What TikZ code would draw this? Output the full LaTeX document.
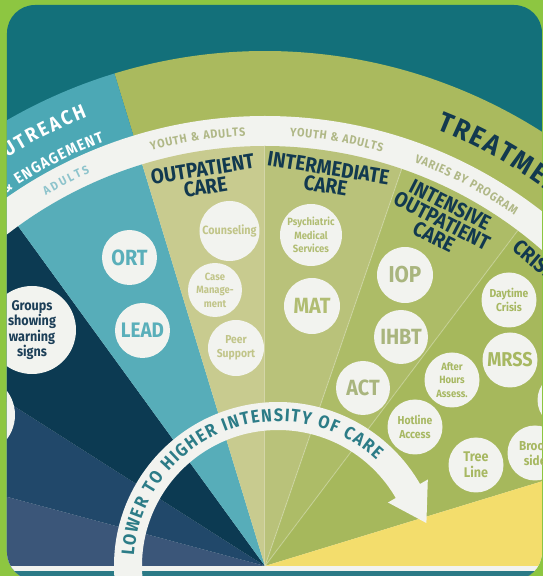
\documentclass[tikz,border=0pt]{standalone}
\usepackage{fontspec}
\setmainfont{Fira Sans}[FakeStretch=0.9]
\usetikzlibrary{calc,decorations.text}
\definecolor{framegreen}{HTML}{8DC641}
\definecolor{deepteal}{HTML}{13707A}
\definecolor{bandteal}{HTML}{4CA8B5}
\definecolor{bandolive}{HTML}{AABA5E}
\definecolor{ringwhite}{HTML}{F2F3EF}
\definecolor{navya}{HTML}{0C3A52}
\definecolor{navyb}{HTML}{21486A}
\definecolor{navyc}{HTML}{3B5679}
\definecolor{wedgeteal}{HTML}{57ADB9}
\definecolor{outpat}{HTML}{C8CB8F}
\definecolor{intermed}{HTML}{B9C27A}
\definecolor{intensive}{HTML}{ADBC67}
\definecolor{crisis}{HTML}{A6B85C}
\definecolor{sunyellow}{HTML}{F3DD6C}
\definecolor{stripteal}{HTML}{2B7A86}
\definecolor{titlenavy}{HTML}{12394F}
\definecolor{groupnavy}{HTML}{1D3F58}
\definecolor{ringolive}{HTML}{B0B887}
\definecolor{ringteal}{HTML}{8EC4CC}
\definecolor{arrowteal}{HTML}{2C7C87}
\definecolor{tealtext}{HTML}{5AAFBA}
\definecolor{paletext}{HTML}{C1C589}
\definecolor{midtext}{HTML}{B1BD73}
\definecolor{ioptext}{HTML}{A9B57E}
\definecolor{crisistext}{HTML}{A7B862}
\tikzset{
  bubble/.style={circle,fill=ringwhite,inner sep=0pt,align=center,
                 minimum size=55pt,font=\bfseries\fontsize{22}{22}\selectfont},
  smalltag/.style={font=\bfseries\fontsize{10.5}{13.5}\selectfont},
  title/.style={text=titlenavy,align=center,inner sep=0pt,
                font=\bfseries\fontsize{21}{18}\selectfont}
}
% one slice of the fan, from angle #1 to #2
\newcommand{\fanslice}[4]{\fill[#4] (0,0) -- (#1:#3) arc[start angle=#1,end angle=#2,radius=#3] -- cycle;}
% curved text, clockwise from #1 to #2
\newcommand{\arclabel}[6]{\path[decorate,decoration={text along path,text align={fit to path},
    text color=#5,text={|\bfseries\fontsize{#4}{#4}\selectfont|#6}}]
    (#1:#3) arc[start angle=#1,end angle=#2,radius=#3];}

\begin{document}
\begin{tikzpicture}[x=1pt,y=1pt]
  \useasboundingbox (-265,-10) rectangle (278,566);
  \fill[framegreen] (-265,-10) rectangle (278,566);
  \begin{scope}
    \clip[rounded corners=28pt] (-258,-14) rectangle (277,561);
    \fill[deepteal] (-265,-14) rectangle (278,566);

    % outer band and white ring
    \fanslice{0}{107}{515pt}{bandolive}
    \fanslice{107}{190}{515pt}{bandteal}
    \fanslice{0}{190}{450pt}{ringwhite}

    % inner slices
    \fanslice{165}{190}{420pt}{navyc}
    \fanslice{147.5}{165}{420pt}{navyb}
    \fanslice{126}{147.5}{420pt}{navya}
    \fanslice{107}{126}{420pt}{wedgeteal}
    \fanslice{90}{107}{420pt}{outpat}
    \fanslice{71}{90}{420pt}{intermed}
    \fanslice{53}{71}{420pt}{intensive}
    \fanslice{17}{53}{420pt}{crisis}
    \fanslice{-10}{17}{420pt}{sunyellow}
    \foreach \a in {90,71,53}
      \draw[white,opacity=0.25,line width=1pt] (0,0) -- (\a:420pt);

    % bottom strip
    \fill[ringwhite] (-265,0) rectangle (278,-5);
    \fill[stripteal] (-265,-5) rectangle (278,-14);

    % band and ring texts
    \arclabel{124}{111.6}{483pt}{20}{white}{OUTREACH}
    \arclabel{125}{110.7}{454pt}{15.5}{white}{{\&} ENGAGEMENT}
    \arclabel{68.5}{50}{469pt}{28}{titlenavy}{TREATMENT}
    \arclabel{120.6}{114}{430.5pt}{12}{ringteal}{ADULTS}
    \arclabel{105.3}{92.6}{430.5pt}{12}{ringolive}{YOUTH {\&} ADULTS}
    \arclabel{86.7}{74.2}{430.5pt}{12}{ringolive}{YOUTH {\&} ADULTS}
    \arclabel{69.7}{54.6}{430.5pt}{12}{ringolive}{VARIES BY PROGRAM}

    % section titles
    \node[title,rotate=9] (outpatient) at (-61,388) {OUTPATIENT\\CARE};
    \node[title,rotate=-9] (intermediate) at (62,389) {INTERMEDIATE\\CARE};
    \node[title,rotate=-27] (intensivecare) at (177,345) {INTENSIVE\\OUTPATIENT\\CARE};
    \node[title,rotate=-40,anchor=west] (crisiscare) at (251,322) {CRISIS};

    % services
    \node[bubble,minimum size=88pt,text=groupnavy,
          font=\bfseries\fontsize{14}{15.5}\selectfont] (groups) at (-233,236)
      {Groups\\showing\\warning\\signs};
    \node[bubble,minimum size=80pt] (leftcut) at (-290,151) {};
    \node[bubble,text=tealtext] (ort) at (-135.5,308.5) {ORT};
    \node[bubble,text=tealtext,font=\bfseries\fontsize{21}{21}\selectfont] (lead) at (-122.5,235.5) {LEAD};
    \node[bubble,smalltag,minimum size=60pt,text=paletext,
          font=\bfseries\fontsize{12}{13.5}\selectfont] (counsel) at (-35.5,335) {Counseling};
    \node[bubble,smalltag,minimum size=54pt,text=paletext] (casemgmt) at (-50,276) {Case\\Manage-\\ment};
    \node[bubble,smalltag,minimum size=56pt,text=paletext,
          font=\bfseries\fontsize{11.5}{13.5}\selectfont] (peer) at (-29,218) {Peer\\Support};
    \node[bubble,smalltag,minimum size=62pt,text=midtext,
          font=\bfseries\fontsize{10.5}{13.5}\selectfont] (psych) at (46,331) {Psychiatric\\Medical\\Services};
    \node[bubble,minimum size=56pt,text=midtext] (mat) at (47,260) {MAT};
    \node[bubble,minimum size=56pt,text=ioptext,font=\bfseries\fontsize{23}{23}\selectfont] (iop) at (140,291) {IOP};
    \node[bubble,minimum size=54pt,text=ioptext] (ihbt) at (136,229) {IHBT};
    \node[bubble,minimum size=54pt,text=ioptext] (act) at (98,178) {ACT};
    \node[bubble,smalltag,text=crisistext] (afterhours) at (187,186) {After\\Hours\\Assess.};
    \node[bubble,smalltag,text=crisistext,
          font=\bfseries\fontsize{11.5}{13.5}\selectfont] (hotline) at (150,139) {Hotline\\Access};
    \node[bubble,smalltag,text=crisistext,
          font=\bfseries\fontsize{11.5}{14}\selectfont] (daytime) at (244,266) {Daytime\\Crisis};
    \node[bubble,text=crisistext,font=\bfseries\fontsize{20}{20}\selectfont] (mrss) at (245,206) {MRSS};
    \node[bubble,text=crisistext,font=\bfseries\fontsize{14}{16}\selectfont] (treeline) at (211,101) {Tree\\Line};
    \node[bubble,text=crisistext,font=\bfseries\fontsize{13}{15}\selectfont] (brookside) at (270,113) {Brook\\side};
    \node[bubble] (rightcut) at (300,166) {};

    % intensity arrow
    \begin{scope}[shift={(13,0)}]
      \draw[ringwhite,line width=28pt] (185:150pt) arc[start angle=185,end angle=29,radius=150pt];
      \fill[ringwhite] (30:127pt) -- (30:173pt) -- ($(30:150pt)+(-60:37pt)$) -- cycle;
      \arclabel{176}{47}{144.5pt}{18}{arrowteal}{LOWER TO HIGHER INTENSITY OF CARE}
    \end{scope}
  \end{scope}
\end{tikzpicture}
\end{document}
